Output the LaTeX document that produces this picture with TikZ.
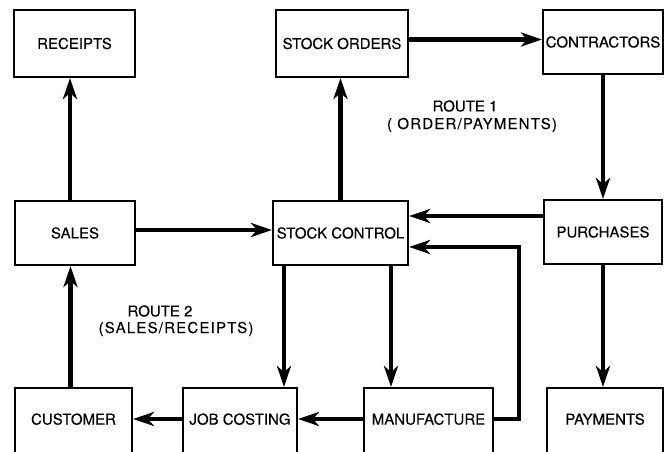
\documentclass[tikz,border=0pt]{standalone}
\usepackage{fontspec}
\setmainfont{TeX Gyre Heros}[FakeBold=0.25]
\newfontfamily\spacedfont{TeX Gyre Heros}[LetterSpace=8, FakeBold=0.25]
\usetikzlibrary{positioning, arrows.meta}

\begin{document}
\begin{tikzpicture}[x=1pt, y=-1pt, font=\fontsize{15}{18}\selectfont,
    box/.style={draw, line width=2pt, inner sep=0pt, minimum height=67pt},
    cutbox/.style={box, minimum height=72pt, text depth=10pt},
    flow/.style={line width=4.5pt, -{Stealth[length=21pt, width=14pt, inset=6pt]}}]
  \useasboundingbox (0,0) rectangle (665,452);
  \clip (-5,-5) rectangle (670,452);
  % top row
  \node[box, minimum width=121pt] (receipts) at (74.5,43.5) {RECEIPTS};
  \node[box, minimum width=132pt] (orders) at (342,43.5) {STOCK ORDERS};
  \node[box, minimum width=120pt, minimum height=64pt] (contractors) at (603,42) {CONTRACTORS};
  % middle row
  \node[box, minimum width=120pt, minimum height=64pt] (sales) at (75,233) {SALES};
  \node[box, minimum width=135pt, minimum height=64pt] (control) at (340.5,233) {STOCK CONTROL};
  \node[box, minimum width=118pt, minimum height=64pt] (purchases) at (603,232) {PURCHASES};
  % bottom row, cut by the page edge
  \node[cutbox, minimum width=117pt] (customer) at (73.5,424) {CUSTOMER};
  \node[cutbox, minimum width=114pt] (jobcost) at (240,424) {JOB COSTING};
  \node[cutbox, minimum width=129pt] (manuf) at (428.5,424) {MANUFACTURE};
  \node[cutbox, minimum width=116pt] (payments) at (605,424) {PAYMENTS};
  % route notes
  \node (route1) at (465,106) {ROUTE 1};
  \node (route1sub) at (472,125) {\spacedfont ( ORDER/PAYMENTS)};
  \node (route2) at (160,311) {ROUTE 2};
  \node (route2sub) at (176,329) {\spacedfont (SALES/RECEIPTS)};
  \coordinate (loop) at (519,247);

  \draw[flow] ([xshift=-5pt]sales.north) -- ([xshift=-5pt]sales.north |- receipts.south);
  \draw[flow] (control.north) -- (control.north |- orders.south);
  \draw[flow] ([yshift=4pt]orders.east) -- ([yshift=4pt]orders.east -| contractors.west);
  \draw[flow] (contractors.south) -- (contractors.south |- purchases.north);
  \draw[flow] ([yshift=16pt]purchases.west) -- ([yshift=16pt]purchases.west -| control.east);
  \draw[flow] ([yshift=3pt]sales.east) -- ([yshift=3pt]sales.east -| control.west);
  \draw[flow] ([xshift=12pt]control.south west) -- ([xshift=12pt]control.south west |- jobcost.north);
  \draw[flow] ([xshift=-18pt]control.south east) -- ([xshift=-18pt]control.south east |- manuf.north);
  \draw[flow] ([yshift=5pt]manuf.east) -| (loop) -- (loop -| control.east);
  \draw[flow] ([yshift=5pt]manuf.west) -- ([yshift=5pt]manuf.west -| jobcost.east);
  \draw[flow] ([yshift=5pt]jobcost.west) -- ([yshift=5pt]jobcost.west -| customer.east);
  \draw[flow] ([xshift=-3pt]customer.north) -- ([xshift=-3pt]customer.north |- sales.south);
  \draw[flow] (purchases.south) -- (purchases.south |- payments.north);
\end{tikzpicture}
\end{document}
